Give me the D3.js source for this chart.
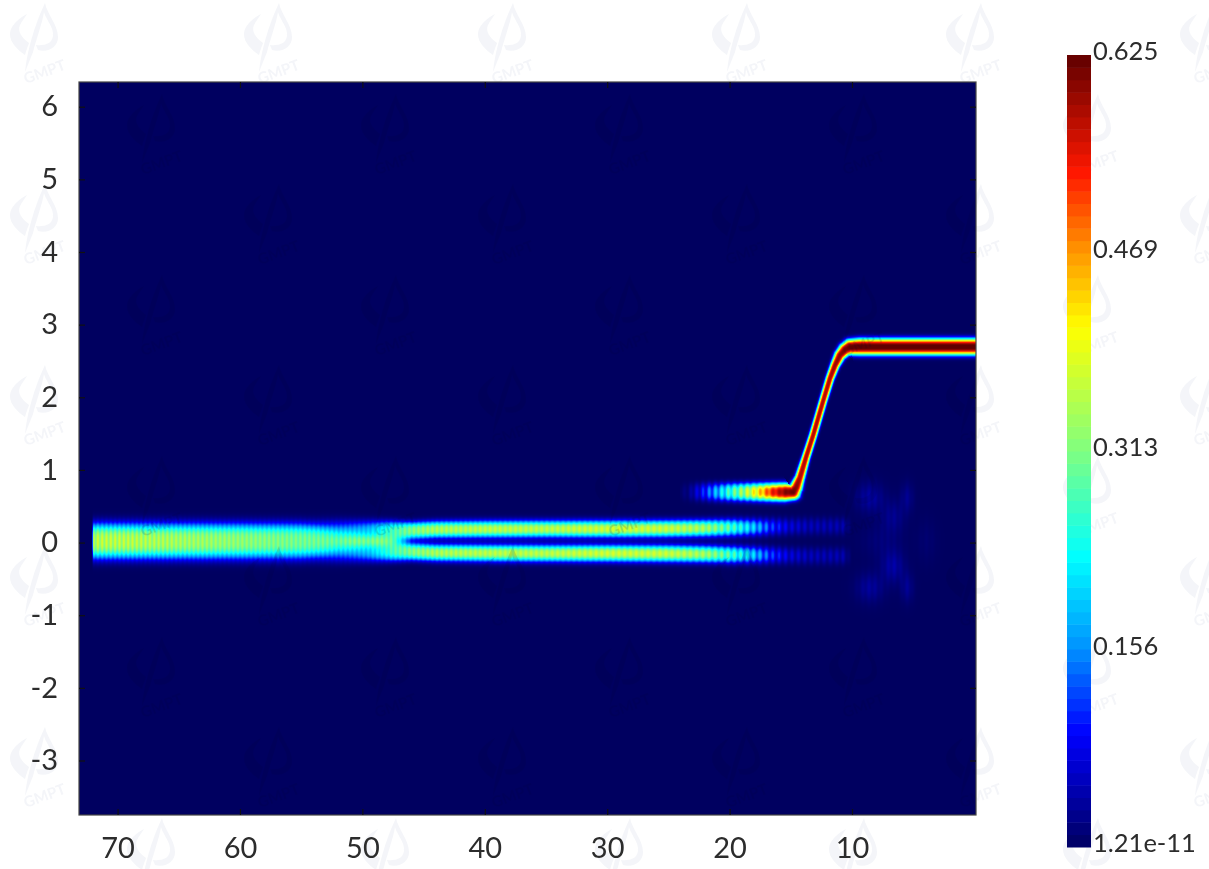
<!DOCTYPE html>
<html><head><meta charset="utf-8">
<style>
html,body{margin:0;padding:0;background:#fff;width:1209px;height:869px;overflow:hidden}
#wrap{position:relative;width:1209px;height:869px}
canvas{position:absolute;filter:blur(.7px)}
svg{position:absolute;left:0;top:0}
text{font-family:Lato,"Open Sans",sans-serif;fill:#2c2c2c}
</style>
<script src="https://cdn.jsdelivr.net/npm/d3@7"></script>
</head><body><div id="wrap"></div>
<script>
// ---- axes ----
const xTicks=[70,60,50,40,30,20,10];
const yTicks=[6,5,4,3,2,1,0,-1,-2,-3];
const colorbarTicks=[0.625,0.469,0.313,0.156,0];
const colorbarLabels=["0.625","0.469","0.313","0.156","1.21e-11"];
// ---- colour map (value -> colour) ----
const colorStops=[0,0.09,0.156,0.229,0.313,0.41,0.469,0.532,0.625];
const colorValues=["#000060","#0000ff","#0090ff","#00ffff","#80ff80","#ffff00","#ff9800","#ff1800","#600000"];
const colorbarSteps=64;
// ---- narrow high-intensity beam: stations along its path ----
const beamX=[23.4,22.4,21.2,20,18.8,17.5,16.6,15.5,14.82,14.57,14.25,13.76,13.18,12.37,11.8,11.39,10.98,10.57,10.17,9.4,0];
const beamY=[0.695,0.695,0.695,0.695,0.695,0.695,0.695,0.695,0.696,0.758,0.896,1.172,1.475,1.943,2.26,2.44,2.58,2.655,2.69,2.695,2.695];
const beamPeak=[0.02,0.10,0.2,0.30,0.38,0.47,0.55,0.61,0.62,0.6,0.58,0.58,0.58,0.58,0.58,0.59,0.6,0.61,0.625,0.63,0.63];
const beamWidth=[0.12,0.12,0.12,0.12,0.12,0.12,0.12,0.12,0.105,0.085,0.065,0.055,0.053,0.053,0.056,0.062,0.075,0.09,0.105,0.112,0.112];
const beamStripe=[0.5,0.5,0.4,0.3,0.25,0.15,0.08,0.03,0,0,0,0,0,0,0,0,0,0,0,0,0];
// ---- twin low-intensity lobes: stations along the distance axis ----
const lobeX=[71.95,70,65,60,55,52,49.5,47.5,46,44,40,35,30,25,22,20,18,16.5,15,13.5,12,10.8,10];
const lobeOffset=[0,0,0,0,0.01,0.07,0.105,0.125,0.145,0.16,0.165,0.168,0.168,0.172,0.178,0.185,0.19,0.195,0.2,0.205,0.205,0.205,0.205];
const lobeWidth=[0.236,0.236,0.236,0.236,0.236,0.205,0.17,0.145,0.115,0.11,0.11,0.11,0.11,0.11,0.11,0.112,0.112,0.112,0.112,0.115,0.115,0.115,0.11];
const lobeShape=[3,3,3,3,3,3,3,3,2.7,2.5,2.4,2.4,2.4,2.4,2.4,2.4,2.4,2.4,2.4,2.4,2.4,2.4,2.4];
const lobePeak=[0.19,0.19,0.18,0.17,0.16,0.16,0.2,0.29,0.33,0.36,0.37,0.37,0.385,0.38,0.36,0.31,0.22,0.13,0.075,0.055,0.05,0.05,0];
const lobeStripe=[0.16,0.16,0.14,0.12,0.12,0.12,0.12,0.12,0.12,0.12,0.1,0.1,0.1,0.1,0.15,0.25,0.35,0.45,0.5,0.5,0.5,0.5,0.5];
const lobeCentre=0.02;
// ---- faint patches near the end of the lobes: x, y, x size, y size, value ----
const patchX=[8.54,6.66,5.5,8.54,6.66,5.5,7.6,3.9];
const patchY=[0.62,0.36,0.62,-0.62,-0.33,-0.62,0.02,0.02];
const patchSX=[1.1,0.9,0.5,1.1,0.9,0.5,1.6,0.8];
const patchSY=[0.2,0.22,0.2,0.2,0.22,0.2,0.25,0.3];
const patchValue=[0.04,0.028,0.028,0.036,0.042,0.03,0.015,0.01];
// ---- watermark tiling ----
const markColumns=[0,1,2,3,4,5];
const markRows=[0,1,2,3,4];

const plot={left:79,top:82,right:976,bottom:815};
const x=d3.scaleLinear().domain([73.15,-0.13]).range([plot.left,plot.right]);
const y=d3.scaleLinear().domain([6.34,-3.75]).range([plot.top,plot.bottom]);
const color=d3.scaleLinear().domain(colorStops).range(colorValues).clamp(true);
const bar=d3.scaleLinear().domain([0,0.625]).range([847,55]);

const lobe=f=>d3.scaleLinear().domain(lobeX).range(f).clamp(true);
const lobeO=lobe(lobeOffset),lobeW=lobe(lobeWidth),lobeS=lobe(lobeShape),lobeP=lobe(lobePeak),lobeT=lobe(lobeStripe);

const W=plot.right-plot.left,H=plot.bottom-plot.top;
const wrap=d3.select("#wrap");
const canvas=wrap.append("canvas").attr("width",W).attr("height",H)
  .style("left",plot.left+"px").style("top",plot.top+"px").node();
const ctx=canvas.getContext("2d");
const img=ctx.createImageData(W,H);
const field=new Float32Array(W*H);

// column mesh: stripes are tighter at long distance, wider at short distance
const stripeLen=d3.scaleLinear().domain([73,45,20,0]).range([4.3,4.6,6.4,6.4]);
const phase=new Float32Array(W);
{let p=0;for(let i=0;i<W;i++){p+=2*Math.PI/stripeLen(x.invert(plot.left+i));phase[i]=p;}}
const mod=(i,d)=>1-d*(0.5+0.5*Math.cos(phase[i]));

// lobes
for(let i=0;i<W;i++){
  const v=x.invert(plot.left+i+.5);
  if(v>lobeX[0]+0.15||v<9.8)continue;
  const edge=v>lobeX[0]?1-(v-lobeX[0])/0.15:1;
  const o=lobeO(v),w=lobeW(v),s=lobeS(v),p=lobeP(v)*mod(i,lobeT(v))*edge;
  for(let j=0;j<H;j++){
    const u=y.invert(plot.top+j+.5)-lobeCentre;
    if(Math.abs(u)>0.6)continue;
    field[j*W+i]+=p*(Math.exp(-Math.pow(Math.abs(u-o)/w,s))+Math.exp(-Math.pow(Math.abs(u+o)/w,s)));
  }
}
// faint patches
patchX.forEach((px,k)=>{
  for(let i=0;i<W;i++){
    const v=x.invert(plot.left+i+.5);const a=(v-px)/patchSX[k];
    if(Math.abs(a)>3)continue;
    const m=mod(i,0.3);
    for(let j=0;j<H;j++){
      const b=(y.invert(plot.top+j+.5)-patchY[k])/patchSY[k];
      if(Math.abs(b)>3)continue;
      field[j*W+i]+=patchValue[k]*m*Math.exp(-a*a-b*b);
    }
  }
});
// beam: nearest point on the polyline, measured in pixels
{
  const pts=beamX.map((d,k)=>[x(d),y(beamY[k])]);
  const unit=y(0)-y(1);
  for(let i=Math.floor(x(24)-plot.left);i<W;i++){
    for(let j=Math.floor(y(3.1)-plot.top);j<y(0.4)-plot.top;j++){
      const px=plot.left+i+.5,py=plot.top+j+.5;
      let best=1e9,bk=0,bt=0;
      for(let k=0;k<pts.length-1;k++){
        const [ax,ay]=pts[k],[cx,cy]=pts[k+1];
        const dx=cx-ax,dy=cy-ay;
        let t=((px-ax)*dx+(py-ay)*dy)/(dx*dx+dy*dy);t=Math.max(0,Math.min(1,t));
        const ex=ax+t*dx-px,ey=ay+t*dy-py,d=ex*ex+ey*ey;
        if(d<best){best=d;bk=k;bt=t;}
      }
      const lerp=a=>a[bk]+(a[bk+1]-a[bk])*bt;
      const dist=Math.sqrt(best)/unit;
      const w=lerp(beamWidth),pk=lerp(beamPeak)*mod(i,lerp(beamStripe));
      field[j*W+i]+=pk*Math.exp(-Math.pow(dist/w,2.8));
    }
  }
}
for(let n=0;n<W*H;n++){
  const c=d3.rgb(color(field[n]));
  img.data[n*4]=c.r;img.data[n*4+1]=c.g;img.data[n*4+2]=c.b;img.data[n*4+3]=255;
}
ctx.putImageData(img,0,0);

const svg=wrap.append("svg").attr("width",1209).attr("height",869);

// watermark
const defs=svg.append("defs");
const mark=defs.append("g").attr("id","mark");
mark.append("path").attr("d","M45 3C47 14 58 25 58 37C58 47 48 53 38 50L36 45C44 46 52 44 53 36C54 27 46 20 44 12C42 24 36 40 33 52L25 72C27 52 34 26 45 3Z");
mark.append("path").attr("d","M27 14C19 18 10 26 10 34C10 43 18 50 25 55C27 48 28 46 29 43C22 38 17 31 20 25C22 21 25 17 27 14Z");
mark.append("text").attr("transform","translate(26,84) rotate(-20)").style("font-size","15px").style("font-weight","700").style("fill","inherit").text("GMPT");
defs.append("clipPath").attr("id","inside").append("rect")
  .attr("x",plot.left).attr("y",plot.top).attr("width",W).attr("height",H);
defs.append("clipPath").attr("id","outside").append("path").attr("clip-rule","evenodd")
  .attr("d",`M0 0H1209V869H0ZM${plot.left} ${plot.top}V${plot.bottom}H${plot.right}V${plot.top}Z`);
const tiles=[];
markRows.forEach(r=>markColumns.forEach(c=>{tiles.push([c*234,r*181]);tiles.push([117+c*234,91+r*181]);}));
const drawMarks=(clip,fill,op)=>svg.append("g").attr("clip-path",`url(#${clip})`).attr("fill",fill).attr("opacity",op)
  .selectAll("use").data(tiles).join("use").attr("href","#mark").attr("transform",d=>`translate(${d[0]},${d[1]})`);
drawMarks("outside","#9aa6c6",0.11);
drawMarks("inside","#00003a",0.13);

// frame + ticks
svg.append("rect").attr("x",plot.left).attr("y",plot.top).attr("width",W).attr("height",H)
  .attr("fill","none").attr("stroke","#444").attr("stroke-width",1.2);
const style=(g,size)=>{g.select(".domain").remove();g.selectAll(".tick line").attr("stroke","#111").attr("stroke-width",1.2);
  g.selectAll("text").style("font-size",size+"px").attr("fill","#2c2c2c");};
svg.append("g").attr("transform",`translate(0,${plot.bottom})`)
  .call(d3.axisBottom(x).tickValues(xTicks).tickSize(-6).tickPadding(22).tickFormat(d3.format("d")))
  .call(style,29);
svg.append("g").attr("transform",`translate(0,${plot.top})`)
  .call(d3.axisTop(x).tickValues(xTicks).tickSize(-6).tickFormat("")).call(style,29);
svg.append("g").attr("transform",`translate(${plot.left},0)`)
  .call(d3.axisLeft(y).tickValues(yTicks).tickSize(-6).tickPadding(21).tickFormat(d=>d<0?"-"+Math.abs(d):d))
  .call(style,29);
svg.append("g").attr("transform",`translate(${plot.right},0)`)
  .call(d3.axisRight(y).tickValues(yTicks).tickSize(-6).tickFormat("")).call(style,29);

// colour bar
const step=0.625/colorbarSteps;
svg.append("g").selectAll("rect").data(d3.range(colorbarSteps)).join("rect")
  .attr("x",1067).attr("width",24)
  .attr("y",d=>bar((d+1)*step)).attr("height",d=>bar(d*step)-bar((d+1)*step)+0.5)
  .attr("fill",d=>color((d+0.5)*step));
const cb=svg.append("g").attr("transform","translate(1091,0)")
  .call(d3.axisRight(bar).tickValues(colorbarTicks).tickSize(0).tickPadding(2)
    .tickFormat((d,k)=>colorbarLabels[k]))
  .call(style,25.5);
cb.selectAll("text").attr("dy","0.19em");
</script></body></html>
